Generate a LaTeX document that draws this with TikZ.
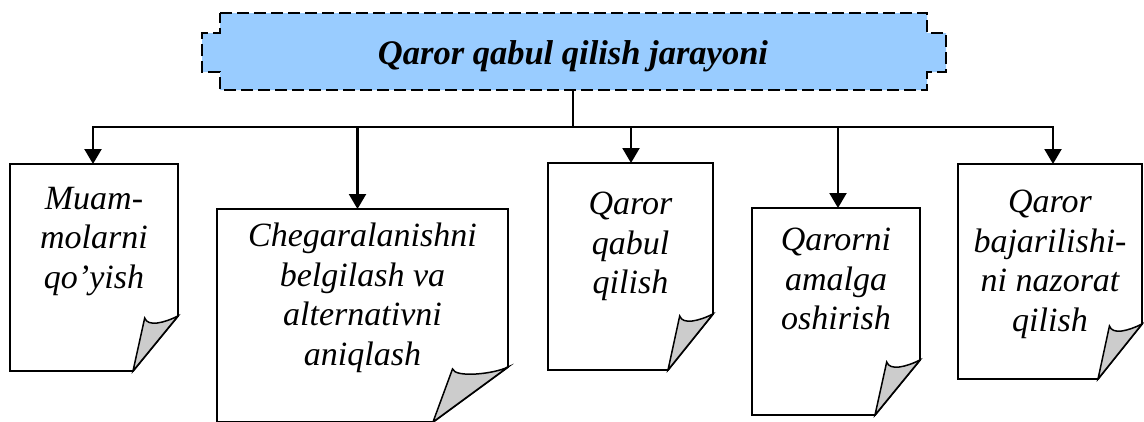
\documentclass[tikz,border=0pt]{standalone}
\usepackage{fontspec}
\setmainfont{Liberation Serif}
\usetikzlibrary{calc,arrows.meta}
\definecolor{titleblue}{RGB}{153,204,255}
\definecolor{flapgray}{RGB}{204,204,204}
\tikzset{
  paper/.style={draw=none,fill=none,inner sep=0pt,outer sep=0pt},
  paperline/.style={draw=black,line width=1.9pt,fill=white,line join=miter},
  flap/.style={draw=black,line width=1.5pt,fill=flapgray,line join=miter},
  lbl/.style={inner sep=0pt,outer sep=0pt,align=center,font=\fontsize{34}{39.5}\selectfont\itshape},
  titletext/.style={inner sep=0pt,font=\fontsize{34.5}{40}\selectfont\bfseries\itshape},
  titlebox/.style={draw=black,fill=titleblue,line width=2pt,dash pattern=on 12pt off 5pt},
  conn/.style={line width=2.2pt},
  arr/.style={line width=2.2pt,-{Triangle[width=17pt,length=15pt]}}
}
\newcommand\docshape[3]{%
  \path (#1.south east) ++(0,-#3) coordinate (#1-r);
  \path (#1.south east) ++(-#2,0) coordinate (#1-b);
  \path (#1-r) ++(-0.74*#2,2) coordinate (#1-c);
  \draw[paperline] (#1-b) -- (#1.south west) -- (#1.north west) -- (#1.north east) -- (#1-r) -- cycle;
  \draw[flap] (#1-c) .. controls ($(#1-c)+(3,9)$) and ($(#1-r)+(-14,7)$) .. (#1-r) -- (#1-b) -- cycle;
}
\begin{document}
\begin{tikzpicture}[x=1pt,y=-1pt]
\useasboundingbox (0,0) rectangle (1144,421);
% title
\draw[titlebox] (220,13) -- (927,13) -- (927,33) -- (946,33) -- (946,72) -- (927,72) -- (927,90)
  -- (220,90) -- (220,72) -- (202,72) -- (202,33) -- (220,33) -- cycle;
\node[titletext,anchor=base] (title) at (573,64) {Qaror qabul qilish jarayoni};
\coordinate (tb) at (573,90);
\coordinate (bus) at (573,127);
% papers
\node[paper,minimum width=168pt,minimum height=207pt] (p1) at (94,267.5) {};
\node[paper,minimum width=291pt,minimum height=213pt] (p2) at (362.5,315.5) {};
\node[paper,minimum width=165pt,minimum height=207pt] (p3) at (630.5,266.5) {};
\node[paper,minimum width=168pt,minimum height=207pt] (p4) at (836,311.5) {};
\node[paper,minimum width=184pt,minimum height=215pt] (p5) at (1050,271.5) {};
% connectors
\draw[conn] (tb) -- (bus);
\draw[arr] (bus) -| ($(p1.north)+(-1,0)$);
\draw[arr] (bus) -| ($(p2.north)+(-5,0)$);
\draw[arr] (bus) -| ($(p3.north)+(0.5,0)$);
\draw[arr] (bus) -| ($(p4.north)+(2,0)$);
\draw[arr] (bus) -| ($(p5.north)+(3,0)$);
% paper shapes
\docshape{p1}{45}{55}
\docshape{p2}{75}{55}
\docshape{p3}{45}{56}
\docshape{p4}{45}{55}
\docshape{p5}{44}{55}
% labels
\node[lbl,anchor=north] (t1) at ($(p1.north)+(0,23)$) {Muam-\\molarni\\qo’yish};
\node[lbl,anchor=north] (t2) at ($(p2.north)+(0,14)$) {Chegaralanishni\\belgilash va\\alternativni\\aniqlash};
\node[lbl,anchor=north] (t3) at ($(p3.north)+(0,29)$) {Qaror\\qabul\\qilish};
\node[lbl,anchor=north] (t4) at ($(p4.north)+(0,20)$) {Qarorni\\amalga\\oshirish};
\node[lbl,anchor=north] (t5) at ($(p5.north)+(0,26)$) {Qaror\\bajarilishi-\\ni nazorat\\qilish};
\end{tikzpicture}
\end{document}
